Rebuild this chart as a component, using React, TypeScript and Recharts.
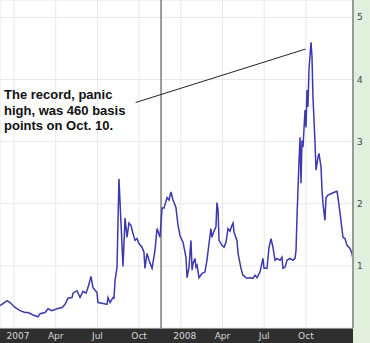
import React from "react";
import { LineChart, Line, XAxis, YAxis, CartesianGrid, ReferenceLine } from "recharts";

// months since Jan 2007 (0 = Jan 2007)
const months = [
  -1.0, -0.5, -0.29, 0.07, 0.43, 0.79, 1.01, 1.37, 1.73, 1.87, 2.23, 2.45, 2.73, 3.09, 3.45, 3.67, 3.88, 4.17, 4.24, 4.53,
  4.75, 4.96, 5.18, 5.32, 5.54, 5.68, 5.97, 6.04, 6.33, 6.69, 6.76, 6.91, 7.12, 7.19, 7.27, 7.41, 7.55, 7.84, 7.99, 8.13,
  8.27, 8.42, 8.56, 8.71, 8.85, 8.99, 9.21, 9.35, 9.42, 9.57, 9.71, 9.93, 10.14, 10.29, 10.5, 10.65, 10.79, 11.01, 11.15, 11.29,
  11.44, 11.65, 11.8, 11.94, 12.09, 12.16, 12.37, 12.45, 12.59, 12.73, 12.81, 12.88, 13.02, 13.09, 13.17, 13.31, 13.53, 13.74, 13.88, 14.03,
  14.17, 14.24, 14.39, 14.53, 14.6, 14.68, 14.75, 14.96, 15.11, 15.25, 15.4, 15.54, 15.68, 15.76, 15.83, 16.04, 16.12, 16.33, 16.47, 16.76,
  16.98, 17.19, 17.34, 17.48, 17.7, 17.91, 17.99, 18.2, 18.35, 18.49, 18.63, 18.78, 18.92, 19.14, 19.28, 19.35, 19.5, 19.64, 19.86, 20.07,
  20.22, 20.29, 20.36, 20.5, 20.58, 20.65, 20.72, 20.79, 20.94, 21.01, 21.08, 21.15, 21.22, 21.37, 21.44, 21.51, 21.65, 21.73, 21.87, 21.94,
  22.09, 22.16, 22.23, 22.37, 22.45, 22.59, 22.88, 23.09, 23.24, 23.31, 23.45, 23.67, 23.81, 23.96, 24.17, 24.32, 24.39,
];

// spread, percentage points
const spread = [
  0.36, 0.44, 0.41, 0.33, 0.28, 0.25, 0.25, 0.21, 0.18, 0.23, 0.25, 0.31, 0.28, 0.31, 0.33, 0.38, 0.48, 0.49, 0.56, 0.6,
  0.49, 0.59, 0.56, 0.65, 0.83, 0.65, 0.57, 0.41, 0.4, 0.38, 0.49, 0.41, 0.49, 0.48, 0.77, 0.98, 2.4, 0.99, 1.77, 1.46,
  1.69, 1.65, 1.52, 1.41, 1.44, 1.36, 1.3, 1.22, 0.96, 1.2, 1.09, 0.96, 1.25, 1.6, 1.46, 1.93, 1.93, 2.1, 2.06, 2.19,
  2.06, 1.94, 1.65, 1.49, 1.41, 1.38, 1.14, 0.81, 0.98, 1.41, 0.93, 1.04, 1.12, 0.98, 1.01, 0.81, 0.88, 0.9, 1.09, 1.36,
  1.6, 1.46, 1.56, 1.63, 2.02, 1.9, 1.41, 1.33, 1.3, 1.38, 1.6, 1.56, 1.65, 1.69, 1.54, 1.41, 1.2, 0.96, 0.85, 0.8,
  0.81, 0.8, 0.85, 0.81, 0.9, 1.12, 0.96, 0.96, 1.3, 1.44, 1.3, 1.09, 1.12, 1.09, 1.14, 0.96, 0.98, 1.09, 1.12, 1.09,
  1.12, 1.25, 1.78, 2.65, 3.07, 2.33, 3.02, 2.91, 3.51, 3.23, 3.83, 3.56, 4.15, 4.6, 4.36, 3.72, 3.02, 2.54, 2.75, 2.81,
  2.59, 2.22, 2.01, 1.73, 2.1, 2.14, 2.17, 2.19, 2.2, 2.1, 1.86, 1.46, 1.44, 1.33, 1.28, 1.2, 1.09,
];

const xTicks = [0, 3, 6, 9, 12, 15, 18, 21];
const xTickLabels = ["2007", "Apr", "Jul", "Oct", "2008", "Apr", "Jul", "Oct"];
const yTicks = [1, 2, 3, 4, 5];

const markerMonth = 10.58;
const calloutFrom = { x: 8.75, y: 3.63 };
const calloutTo = { x: 20.97, y: 4.49 };
const calloutLines = ["The record, panic", "high, was 460 basis", "points on Oct. 10."];

const data = months.map((m, i) => ({ m, v: spread[i] }));

const XTick = (props: any) => {
  const { x, payload } = props;
  const idx = xTicks.indexOf(payload.value);
  const label = xTickLabels[idx] ?? "";
  const isYear = /^\d+$/.test(label);
  return (
    <text
      x={x + (isYear ? 4 : 0)}
      y={339}
      textAnchor="middle"
      fill="#d8d8d8"
      fontSize={9}
      fontFamily="DejaVu Sans, sans-serif"
    >
      {label}
    </text>
  );
};

const YTick = (props: any) => {
  const { y, payload } = props;
  return (
    <text x={357} y={y + 3} textAnchor="start" fill="#444" fontSize={9} fontFamily="DejaVu Sans, sans-serif">
      {payload.value}
    </text>
  );
};

export default function App() {
  return (
    <div style={{ position: "absolute", left: 0, top: 0, width: 370, height: 343, background: "#e1f0dc", overflow: "hidden" }}>
      <div style={{ position: "absolute", left: 0, top: 328, width: 353, height: 15, background: "#2f2f2f" }} />
      <div style={{ position: "absolute", left: 0, top: 0 }}>
        <LineChart width={370} height={343} data={data} margin={{ top: 0, right: 0, bottom: 0, left: 0 }}>
          <CartesianGrid fill="#ffffff" stroke="#e8e8e8" strokeWidth={1} />
          <XAxis
            type="number"
            dataKey="m"
            domain={[-1.01, 24.39]}
            ticks={xTicks}
            height={15}
            axisLine={false}
            tickLine={false}
            tick={<XTick />}
            allowDataOverflow
            interval={0}
          />
          <YAxis
            orientation="right"
            type="number"
            domain={[0, 5.28]}
            ticks={yTicks}
            width={17}
            axisLine={{ stroke: "#9a9a9a", strokeWidth: 2 }}
            tickLine={false}
            tick={<YTick />}
            allowDataOverflow
            interval={0}
          />
          <ReferenceLine x={markerMonth} stroke="#999" strokeWidth={2} />
          <ReferenceLine segment={[calloutFrom, calloutTo]} stroke="#222" strokeWidth={1} />
          <Line
            type="linear"
            dataKey="v"
            stroke="#3a3aae"
            strokeWidth={1.5}
            dot={false}
            activeDot={false}
            isAnimationActive={false}
          />
        </LineChart>
      </div>
      <div
        style={{
          position: "absolute",
          left: 4,
          top: 87,
          fontFamily: "'Liberation Sans', Arial, sans-serif",
          fontWeight: "bold",
          fontSize: 13,
          lineHeight: "15.5px",
          color: "#111",
          whiteSpace: "nowrap",
        }}
      >
        {calloutLines.map((l) => (
          <div key={l}>{l}</div>
        ))}
      </div>
    </div>
  );
}
